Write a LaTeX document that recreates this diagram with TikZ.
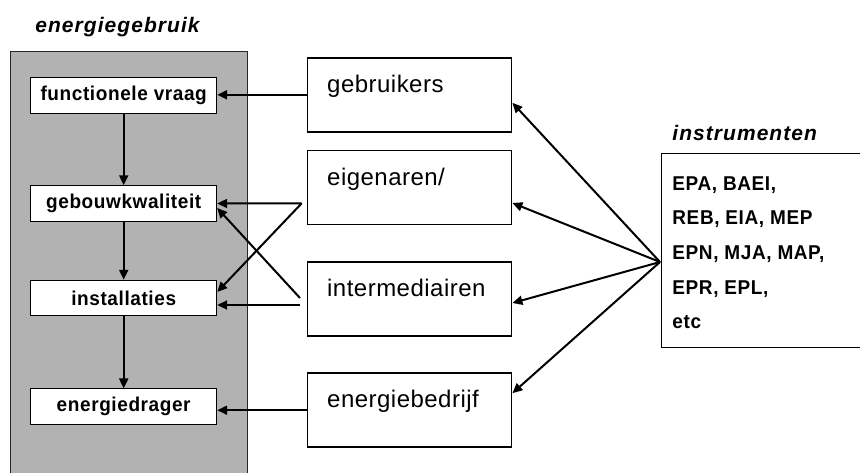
\documentclass[tikz,border=0pt]{standalone}
\usepackage{fontspec}
\setmainfont{Liberation Sans}
\newfontfamily\titlefont[LetterSpace=5]{Liberation Sans}
\newfontfamily\boxfont[LetterSpace=3,FakeStretch=0.95]{Liberation Sans}
\newfontfamily\midfont[LetterSpace=2]{Liberation Sans}
\usetikzlibrary{arrows.meta,calc,positioning}

\begin{document}
\begin{tikzpicture}[x=0.5pt, y=-0.5pt,
    arr/.style={-{Triangle[length=5pt,width=4.5pt]}, line width=1pt},
    panel/.style={rectangle, draw=gray!30!black, fill=gray!60, line width=0.4pt, minimum width=118.4pt, minimum height=214.5pt, inner sep=0pt},
    innerbox/.style={rectangle, draw, fill=white, line width=0.5pt, minimum width=93pt, minimum height=17.75pt, inner sep=0pt, font=\boxfont\bfseries\fontsize{10pt}{12pt}\selectfont},
    midbox/.style={rectangle, draw, line width=0.8pt, minimum width=102pt, minimum height=37pt, inner sep=0pt},
    midtext/.style={anchor=base west, inner sep=0pt, font=\midfont\fontsize{12pt}{14pt}\selectfont},
    title/.style={anchor=base west, inner sep=0pt, font=\titlefont\bfseries\itshape\fontsize{10.5pt}{12pt}\selectfont}]
    \useasboundingbox (0,0) rectangle (860,472);

    % energiegebruik column
    \node[title] (eg-title) at (35,32) {energiegebruik};
    \node[panel] (panel) at (129.1,265.5) {};
    \node[innerbox] (func) at (123.7,95.5) {functionele vraag};
    \node[innerbox] (gebouw) at (123.7,203.5) {gebouwkwaliteit};
    \node[innerbox] (inst) at (123.7,298) {installaties};
    \node[innerbox] (drag) at (123.7,406.7) {energiedrager};

    \draw[arr] (func) -- (gebouw);
    \draw[arr] (gebouw) -- (inst);
    \draw[arr] (inst) -- (drag);

    % actors
    \node[midbox] (gebr) at (409.6,94.8) {};
    \node[midbox] (eig) at (409.6,187.5) {};
    \node[midbox] (inter) at (409.6,298.8) {};
    \node[midbox] (ebed) at (409.6,410.2) {};
    \node[midtext] (gebr-t) at ($(gebr.north west)+(20,35.5)$) {gebruikers};
    \node[midtext] (eig-t) at ($(eig.north west)+(20,35.5)$) {eigenaren/};
    \node[midtext] (inter-t) at ($(inter.north west)+(20,35.5)$) {intermediairen};
    \node[midtext] (ebed-t) at ($(ebed.north west)+(20,35.5)$) {energiebedrijf};

    \coordinate (eig-in) at (301.7,203.3);
    \coordinate (inter-a) at (300,298);
    \coordinate (inter-b) at (300,305);

    \draw[arr] (gebr.west) -- (gebr.west -| func.east);
    \draw[arr] (eig-in) -- (gebouw.east);
    \draw[arr] (eig-in) -- ([yshift=3pt]inst.east);
    \draw[arr] (inter-a) -- ([yshift=-2.25pt]gebouw.east);
    \draw[arr] (inter-b) -- (inter-b -| inst.east);
    \draw[arr] (ebed.west) -- (ebed.west -| drag.east);

    % instrumenten
    \node[title] (in-title) at (672,140) {instrumenten};
    \node[rectangle, draw, line width=0.5pt, minimum width=104.5pt, minimum height=97.2pt] (instr) at (765.5,250.5) {};
    \node[anchor=north west, align=left, inner sep=0pt, font=\boxfont\bfseries\fontsize{10pt}{17.35pt}\selectfont] (instr-t) at (672,176) {EPA, BAEI,\\REB, EIA, MEP\\EPN, MJA, MAP,\\EPR, EPL,\\etc};

    \coordinate (hub) at (660,262);
    \draw[arr] (hub) -- ([yshift=-4pt]gebr.east);
    \draw[arr] (hub) -- ([yshift=-7.75pt]eig.east);
    \draw[arr] (hub) -- ([yshift=-2.1pt]inter.east);
    \draw[arr] (hub) -- ([yshift=8.5pt]ebed.east);
\end{tikzpicture}
\end{document}
